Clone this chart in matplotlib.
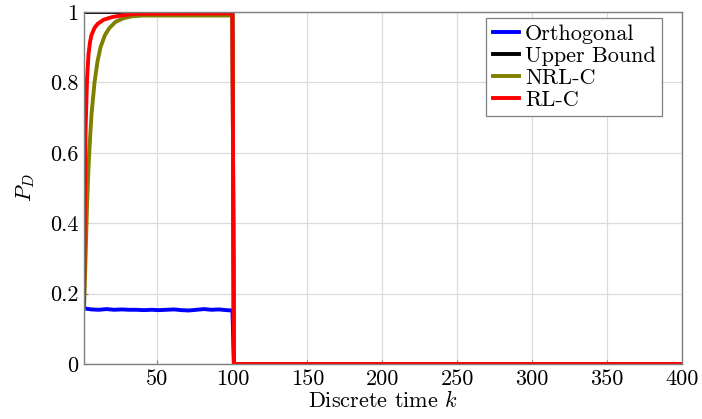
import matplotlib.pyplot as plt

plt.rcParams['font.family'] = ['cmr10', 'DejaVu Serif']
plt.rcParams['mathtext.fontset'] = 'cm'
plt.rcParams['axes.unicode_minus'] = False

# detection probability over discrete time k
k_orth = [1, 6, 11, 16, 21, 26, 31, 36, 41, 46, 51, 56, 61, 66, 71, 76, 81, 86, 91, 96, 100, 101, 400]
pd_orth = [0.158, 0.155, 0.154, 0.156, 0.154, 0.155, 0.154, 0.154, 0.153, 0.154, 0.153, 0.154,
           0.155, 0.153, 0.152, 0.154, 0.156, 0.154, 0.155, 0.153, 0.152, 0.0, 0.0]

k_upper = [1, 100, 101, 400]
pd_upper = [1.0, 1.0, 0.0, 0.0]

k_nrl = [1, 2, 3, 4, 5, 6, 8, 10, 12, 15, 18, 22, 27, 33, 40, 100, 101, 400]
pd_nrl = [0.16, 0.30, 0.45, 0.56, 0.64, 0.71, 0.80, 0.86, 0.90, 0.935, 0.955, 0.972,
          0.982, 0.988, 0.990, 0.990, 0.0, 0.0]

k_rl = [1, 2, 3, 4, 5, 6, 8, 10, 14, 20, 27, 35, 100, 101, 400]
pd_rl = [0.16, 0.66, 0.81, 0.88, 0.915, 0.935, 0.955, 0.966, 0.978, 0.986, 0.991, 0.995,
         0.996, 0.0, 0.0]

x_ticks = [50, 100, 150, 200, 250, 300, 350, 400]
y_ticks = [0, 0.2, 0.4, 0.6, 0.8, 1]
y_labels = ['0', '0.2', '0.4', '0.6', '0.8', '1']

fig = plt.figure(figsize=(7.02, 4.19), dpi=100)
ax = fig.add_axes([0.1197, 0.1313, 0.852, 0.84])

lw = 2.8
ax.plot(k_orth, pd_orth, color='#0000ff', linewidth=lw, label='Orthogonal')
ax.plot(k_upper, pd_upper, color='black', linewidth=lw, label='Upper Bound')
ax.plot(k_nrl, pd_nrl, color='#808000', linewidth=lw, label='NRL-C')
ax.plot(k_rl, pd_rl, color='#ff0000', linewidth=lw, label='RL-C')

ax.set_xlim(1, 400)
ax.set_ylim(0, 1)
ax.set_xticks(x_ticks)
ax.set_xticklabels([str(t) for t in x_ticks])
ax.set_yticks(y_ticks)
ax.set_yticklabels(y_labels)
ax.tick_params(labelsize=16, direction='in', length=3, color='#808080', pad=4)

ax.grid(True, color='#dcdcdc', linewidth=0.9)
ax.set_axisbelow(True)
for s in ax.spines.values():
    s.set_color('#7f7f7f')
    s.set_linewidth(1.0)

ax.set_xlabel('Discrete time $k$', fontsize=16, labelpad=1)
ax.set_ylabel('$P_D$', fontsize=16, labelpad=9)

leg = ax.legend(loc='upper right', bbox_to_anchor=(0.967, 0.983), fontsize=16,
                frameon=True, fancybox=False, framealpha=1, edgecolor='#7f7f7f',
                handlelength=1.2, handletextpad=0.25, labelspacing=0.1,
                borderpad=0.3, borderaxespad=0)
leg.get_frame().set_linewidth(0.9)

fig.savefig('out.png', dpi=100)
